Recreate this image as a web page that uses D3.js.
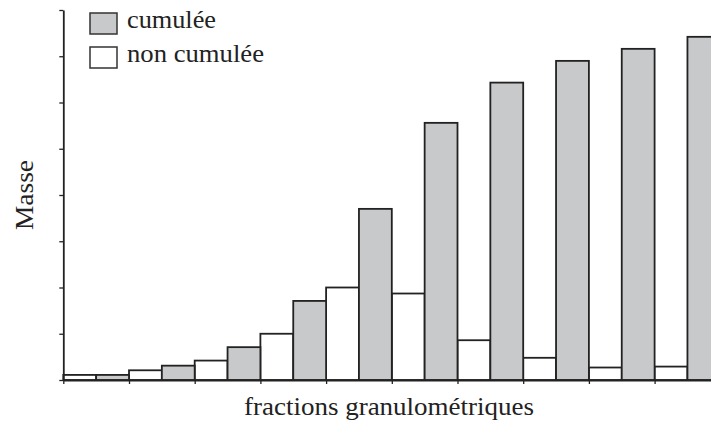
<!DOCTYPE html>
<html lang="fr"><head><meta charset="UTF-8"><script src="https://d3js.org/d3.v7.min.js"></script>
<style>
  .lbl { font-family: "Liberation Serif", serif !important; }
</style>
</head>
<body style="margin:0">
<svg width="711" height="424" font-family="Liberation Serif"></svg>
<script>
// one entry per size fraction (10 fractions, last one cut at the right edge)
const fractions = [0, 1, 2, 3, 4, 5, 6, 7, 8, 9];
const nonCumulee = [0.11, 0.21, 0.42, 1.0, 2.0, 1.87, 0.86, 0.48, 0.27, 0.29];
const cumulee = [0.11, 0.31, 0.71, 1.71, 3.70, 5.56, 6.43, 6.90, 7.16, 7.42];
const yTicks = [0, 1, 2, 3, 4, 5, 6, 7, 8];
const legendLabels = ["cumulée", "non cumulée"];

const svg = d3.select("svg");
const x = d3.scaleLinear().domain([0, 10]).range([63.3, 720.3]);
const y = d3.scaleLinear().domain([0, 8]).range([380, 10]);
const grayFill = "#c8c9cb";
const stroke = "#222";

// text group first, serif
const labels = svg.append("g").attr("font-family", "Liberation Serif").attr("fill", "#222");

labels.append("text")
  .attr("class", "lbl")
  .attr("x", 244).attr("y", 415)
  .attr("font-size", 26)
  .attr("textLength", 290).attr("lengthAdjust", "spacingAndGlyphs")
  .text("fractions granulométriques");

labels.append("text")
  .attr("class", "lbl")
  .attr("transform", "translate(33,230) rotate(-90)")
  .attr("font-size", 26)
  .attr("textLength", 70).attr("lengthAdjust", "spacingAndGlyphs")
  .text("Masse");

// legend
const legendFill = [grayFill, "#fff"];
const legendWidth = [89, 137];
labels.selectAll("rect")
  .data(legendLabels)
  .join("rect")
  .attr("x", 90)
  .attr("y", (d, i) => 13 + i * 34)
  .attr("width", 27)
  .attr("height", 21)
  .attr("fill", (d, i) => legendFill[i])
  .attr("stroke", "#333")
  .attr("stroke-width", 1.5);
labels.selectAll("text.leg")
  .data(legendLabels)
  .join("text")
  .attr("class", "leg lbl")
  .attr("x", 127)
  .attr("y", (d, i) => 28 + i * 34)
  .attr("font-size", 26)
  .attr("textLength", (d, i) => legendWidth[i]).attr("lengthAdjust", "spacingAndGlyphs")
  .text(d => d);

const bars = svg.append("g");
// white (non cumulée) on left half, gray (cumulée) on right half
bars.selectAll("rect.nc")
  .data(fractions)
  .join("rect")
  .attr("class", "nc")
  .attr("x", d => x(d))
  .attr("width", x(0.5) - x(0))
  .attr("y", d => y(nonCumulee[d]))
  .attr("height", d => y(0) - y(nonCumulee[d]))
  .attr("fill", "#fff")
  .attr("stroke", stroke)
  .attr("stroke-width", 1.8);

bars.selectAll("rect.c")
  .data(fractions)
  .join("rect")
  .attr("class", "c")
  .attr("x", d => x(d + 0.5))
  .attr("width", x(0.5) - x(0))
  .attr("y", d => y(cumulee[d]))
  .attr("height", d => y(0) - y(cumulee[d]))
  .attr("fill", grayFill)
  .attr("stroke", stroke)
  .attr("stroke-width", 1.8);

// axes, no tick labels
const xAxis = svg.append("g")
  .attr("transform", `translate(0,${y(0)})`)
  .call(d3.axisBottom(x).tickValues(fractions).tickSize(4).tickSizeOuter(0).tickFormat(""));
const yAxis = svg.append("g")
  .attr("transform", `translate(${x(0)},0)`)
  .call(d3.axisLeft(y).tickValues(yTicks).tickSize(4).tickSizeOuter(0).tickFormat(""));
[xAxis, yAxis].forEach(a => {
  a.select(".domain").attr("stroke", stroke).attr("stroke-width", 1.8);
  a.selectAll(".tick line").attr("stroke", stroke).attr("stroke-width", 1.3);
  a.selectAll(".tick text").remove();
});
</script>
</body></html>
